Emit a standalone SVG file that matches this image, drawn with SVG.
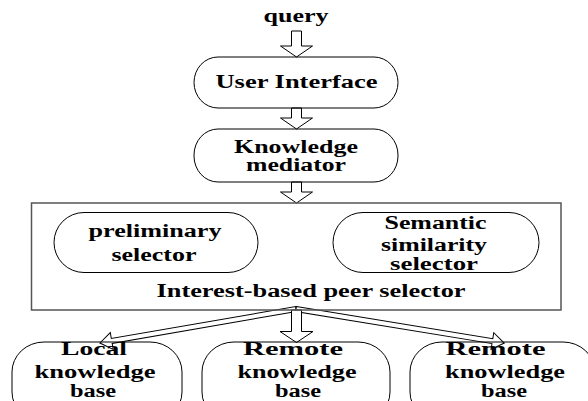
<svg xmlns="http://www.w3.org/2000/svg" width="588" height="401" viewBox="0 0 588 401">
<style>
.t{font-family:"Liberation Serif","Times New Roman",serif;font-weight:bold;font-size:18px;fill:#000;text-anchor:middle}
.b{fill:none;stroke:#000;stroke-width:1}
.frame{fill:none;stroke:#555;stroke-width:1.5}
.ar{fill:#fff;stroke:#000;stroke-width:1;stroke-linejoin:miter}
</style>
<rect width="588" height="401" fill="#fff"/>
<g id="connectors">
<polygon class="ar" points="291.5,31 301.5,31 301.5,46 312.5,46 296.5,57 280.5,46 291.5,46"/>
<polygon class="ar" points="291.5,108 301.5,108 301.5,118 312.5,118 296.5,129 280.5,118 291.5,118"/>
<polygon class="ar" points="291.5,182 301.5,182 301.5,192 312.5,192 296.5,203 280.5,192 291.5,192"/>
<polygon class="ar" transform="translate(296,309) rotate(170.16)" points="0,-2.5 187,-2.5 187,-8.5 199,0 187,8.5 187,2.5 0,2.5"/>
<polygon class="ar" transform="translate(296,309) rotate(9.28)" points="0,-2.5 199,-2.5 199,-8.5 211,0 199,8.5 199,2.5 0,2.5"/>
<polygon class="ar" points="291.5,310 301.5,310 301.5,331.5 313,331.5 296.5,342.5 280,331.5 291.5,331.5"/>
</g>
<g id="query">
<text class="t" x="296" y="22" textLength="65" lengthAdjust="spacingAndGlyphs">query</text>
</g>
<g id="user-interface">
<rect class="b" x="194" y="57" width="204" height="51" rx="24" ry="25.5"/>
<text class="t" x="296.5" y="88" textLength="162" lengthAdjust="spacingAndGlyphs">User Interface</text>
</g>
<g id="knowledge-mediator">
<rect class="b" x="194" y="129" width="204" height="53" rx="24" ry="26"/>
<text class="t" x="296" y="152.5" textLength="124" lengthAdjust="spacingAndGlyphs">Knowledge</text>
<text class="t" x="296" y="171" textLength="100" lengthAdjust="spacingAndGlyphs">mediator</text>
</g>
<g id="peer-selector">
<rect class="frame" x="31.5" y="203" width="529.5" height="107"/>
<text class="t" x="311" y="296.5" textLength="309" lengthAdjust="spacingAndGlyphs">Interest-based peer selector</text>
</g>
<g id="preliminary-selector">
<rect class="b" x="54" y="212.5" width="204" height="60" rx="30" ry="30"/>
<text class="t" x="155" y="237" textLength="133" lengthAdjust="spacingAndGlyphs">preliminary</text>
<text class="t" x="154" y="261" textLength="85" lengthAdjust="spacingAndGlyphs">selector</text>
</g>
<g id="semantic-selector">
<rect class="b" x="333" y="212.5" width="206" height="60" rx="30" ry="30"/>
<text class="t" x="435.5" y="229" textLength="102" lengthAdjust="spacingAndGlyphs">Semantic</text>
<text class="t" x="434" y="251" textLength="106" lengthAdjust="spacingAndGlyphs">similarity</text>
<text class="t" x="434" y="270" textLength="88" lengthAdjust="spacingAndGlyphs">selector</text>
</g>
<g id="local-kb">
<rect class="b" x="12" y="342" width="170" height="80" rx="32" ry="30"/>
<text class="t" x="94" y="355" textLength="66" lengthAdjust="spacingAndGlyphs">Local</text>
<text class="t" x="95" y="378" textLength="121" lengthAdjust="spacingAndGlyphs">knowledge</text>
<text class="t" x="93" y="397" textLength="46" lengthAdjust="spacingAndGlyphs">base</text>
</g>
<g id="remote-kb-1">
<rect class="b" x="202" y="342" width="188" height="80" rx="32" ry="30"/>
<text class="t" x="293" y="355" textLength="100" lengthAdjust="spacingAndGlyphs">Remote</text>
<text class="t" x="297" y="378" textLength="119" lengthAdjust="spacingAndGlyphs">knowledge</text>
<text class="t" x="298" y="397" textLength="46" lengthAdjust="spacingAndGlyphs">base</text>
</g>
<g id="remote-kb-2">
<rect class="b" x="410" y="342" width="185" height="80" rx="32" ry="30"/>
<text class="t" x="495.5" y="355" textLength="100" lengthAdjust="spacingAndGlyphs">Remote</text>
<text class="t" x="505" y="378" textLength="120" lengthAdjust="spacingAndGlyphs">knowledge</text>
<text class="t" x="504" y="397" textLength="46" lengthAdjust="spacingAndGlyphs">base</text>
</g>
</svg>
